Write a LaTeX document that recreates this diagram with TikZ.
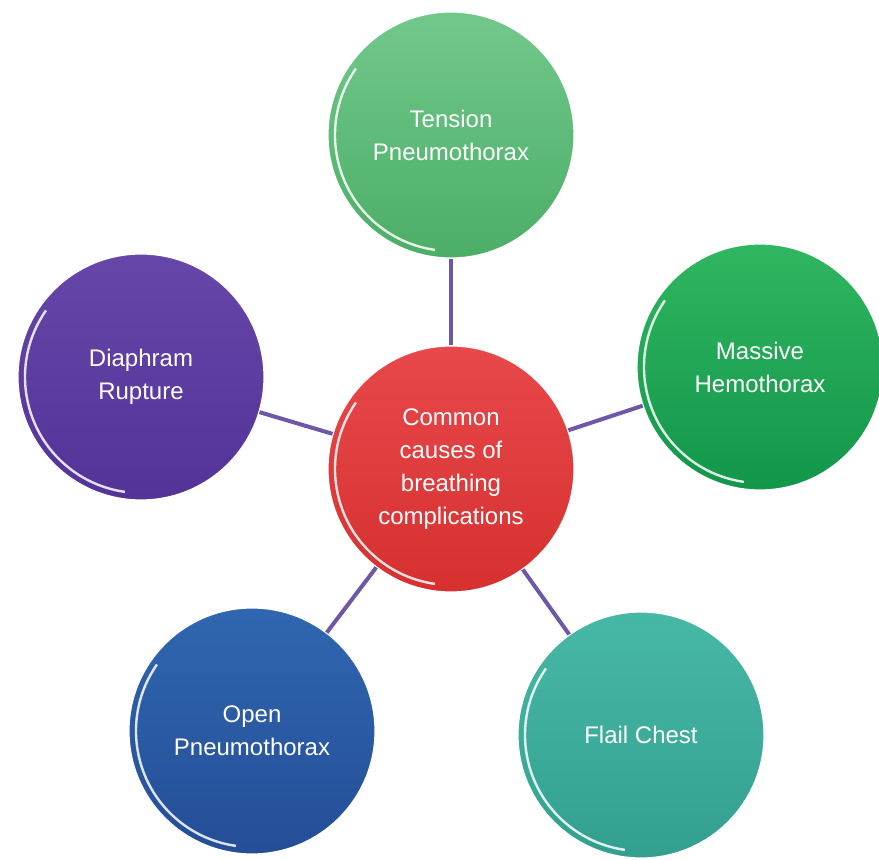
\documentclass[tikz,border=0pt]{standalone}
\usepackage{fontspec}
\setmainfont{Liberation Sans}
\definecolor{Redtop}{HTML}{E8484B}
\definecolor{Redbot}{HTML}{D6302F}
\definecolor{Lgreentop}{HTML}{72C88B}
\definecolor{Lgreenbot}{HTML}{4BAE67}
\definecolor{Dgreentop}{HTML}{30B660}
\definecolor{Dgreenbot}{HTML}{12964A}
\definecolor{Purpletop}{HTML}{6646A8}
\definecolor{Purplebot}{HTML}{533398}
\definecolor{Bluetop}{HTML}{3066B0}
\definecolor{Bluebot}{HTML}{244E97}
\definecolor{Tealtop}{HTML}{48B8A6}
\definecolor{Tealbot}{HTML}{33A08F}
\definecolor{Linkcol}{HTML}{6F57A8}
\usetikzlibrary{positioning}
\tikzset{
    ball/.style={circle, minimum size=123pt, inner sep=0pt, draw=white, line width=0.6pt,
        text=white, align=center, font=\fontsize{12}{16.5}\selectfont,
        path picture={\draw[white, line width=1.2pt, opacity=0.85]
            (path picture bounding box.center) ++(145:58pt)
            arc[start angle=145, end angle=262, radius=58pt];}},
    link/.style={Linkcol, line width=2pt}
}

\begin{document}
\begin{tikzpicture}[x=0.5pt, y=-0.5pt]
    \useasboundingbox (0,0) rectangle (879,860);

    % Centre
    \node[ball, top color=Redtop, bottom color=Redbot] (cause) at (451,469)
        {Common\\causes of\\breathing\\complications};

    % Causes around it
    \node[ball, top color=Lgreentop, bottom color=Lgreenbot] (tension) at (451,135)
        {Tension\\Pneumothorax};
    \node[ball, top color=Dgreentop, bottom color=Dgreenbot] (massive) at (760,367)
        {Massive\\Hemothorax};
    \node[ball, top color=Tealtop, bottom color=Tealbot] (flail) at (641,735)
        {Flail Chest};
    \node[ball, top color=Bluetop, bottom color=Bluebot] (openpn) at (252,731)
        {Open\\Pneumothorax};
    \node[ball, top color=Purpletop, bottom color=Purplebot] (diaphram) at (141,377)
        {Diaphram\\Rupture};

    % Links
    \draw[link] (cause) -- (tension);
    \draw[link] (cause) -- (massive);
    \draw[link] (cause) -- (flail);
    \draw[link] (cause) -- (openpn);
    \draw[link] (cause) -- (diaphram);
\end{tikzpicture}
\end{document}
